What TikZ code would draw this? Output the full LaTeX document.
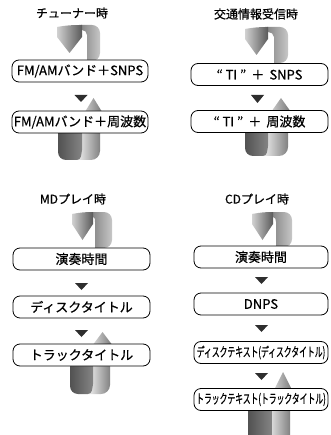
\documentclass[tikz,border=0pt]{standalone}
\usepackage{fontspec}
\setmainfont{Noto Sans CJK JP}[RawFeature={embolden=0.6}]
\usetikzlibrary{calc}
\definecolor{tridark}{HTML}{2E2E2E}
\tikzset{
  box/.style={draw=black, line width=0.8pt, rounded corners=7pt, minimum height=22pt,
    inner sep=0pt, fill=white, font=\fontsize{13}{14}\selectfont},
  ttl/.style={inner sep=0pt, font=\fontsize{12}{13}\selectfont},
  darktri/.style={fill=tridark},
}
% top ribbon: #1 xl1 #2 xl2 #3 xr1 #4 xr2 #5 ytop #6 y box top
\newcommand\TopRib[6]{%
  \shade[left color=black!50, right color=black!22]
    (#2-3,#5) [rounded corners=8pt] -- (#4,#5) -- (#4,#6) [sharp corners] -- (#3,#6) -- (#3,#5+10)
    to[out=90,in=0] (#2,#5+5) -- cycle;
  \shade[left color=black!18, right color=black!65]
    (#1,#5+2) to[out=10,in=180] (#2,#5) -- (#2,#5+12) -- ({(#1+#2)/2},#5+28) -- (#1,#5+12) -- cycle;
}
% bottom ribbon: #1 xl1 #2 xl2 #3 xr1 #4 xr2 #5 ytip #6 ybase #7 y box bottom #8 ybot
\newcommand\BotRib[8]{%
  \shade[left color=black!8, right color=black!52]
    (#2-4,#7) -- (#2-4,#8) [rounded corners=9pt] -- (#4,#8) [sharp corners] -- (#4,#6) -- (#4+1.5,#6)
    -- ({(#3+#4)/2},#5) -- (#3-1.5,#6) -- (#3,#6) -- (#3,#7) -- cycle;
  \shade[left color=black!68, right color=black!48]
    (#1,#7) [rounded corners=8pt] -- (#1,#8) [sharp corners] -- (#2-5,#8) to[out=0,in=-100] (#2,#8-10) -- (#2,#7) -- cycle;
}
\newcommand\DownTri[3]{\fill[darktri] (#1-6.5,#2) -- (#1+6.5,#2) -- (#1,#3) -- cycle;}
\begin{document}
\begin{tikzpicture}[x=1pt,y=-1pt]
\useasboundingbox (0,0) rectangle (330,435);
\begin{scope}
  \clip (0,0) rectangle (330,435);
% ---------- panel 1
\node[ttl] (t1) at (72,13) {チューナー時};
\TopRib{57}{82}{87}{100}{25}{61}
\BotRib{58}{82}{87}{100}{98}{111}{132}{160}
\node[box, minimum width=136pt] (a1) at (80,71) {FM/AMバンド＋SNPS};
\node[box, minimum width=136pt] (a2) at (80,122) {FM/AMバンド＋周波数};
\DownTri{81}{95}{102}
% ---------- panel 2
\node[ttl] (t2) at (256,14) {交通情報受信時};
\TopRib{245}{268}{274}{288}{27}{63}
\BotRib{245}{268}{274}{288}{98}{110}{132}{156}
\node[box, minimum width=137pt] (b1) at (259.5,74.5) {“ TI ”\, ＋ \,SNPS};
\node[box, minimum width=137pt] (b2) at (259.5,121.5) {“ TI ”\, ＋ \,周波数};
\DownTri{257.5}{95}{103}
% ---------- panel 3
\node[ttl] (t3) at (73,199) {MDプレイ時};
\TopRib{72}{93}{95}{112}{212}{248}
\BotRib{70}{93}{95}{110}{332}{344}{366}{394}
\node[box, minimum width=137pt] (c1) at (81.5,259) {演奏時間};
\node[box, minimum width=137pt] (c2) at (81.5,307) {ディスクタイトル};
\node[box, minimum width=137pt] (c3) at (81.5,355) {トラックタイトル};
\DownTri{81.5}{283}{290}
\DownTri{81.5}{330}{337}
% ---------- panel 4
\node[ttl] (t4) at (257,199) {CDプレイ時};
\TopRib{252}{273}{276}{292}{212}{247}
\BotRib{248}{272}{276}{290}{372}{389}{410}{445}
\node[box, minimum width=134pt] (d1) at (261,257) {演奏時間};
\node[box, minimum width=134pt] (d2) at (261,304) {DNPS};
\node[box, minimum width=134pt] (d3) at (261,352.5) {\scalebox{0.6}[1]{ディスクテキスト(ディスクタイトル)}};
\node[box, minimum width=134pt] (d4) at (261,399.5) {\scalebox{0.6}[1]{トラックテキスト(トラックタイトル)}};
\DownTri{261.5}{277}{284}
\DownTri{261.5}{325}{332}
\DownTri{261.5}{373}{380}
\end{scope}
\end{tikzpicture}
\end{document}
